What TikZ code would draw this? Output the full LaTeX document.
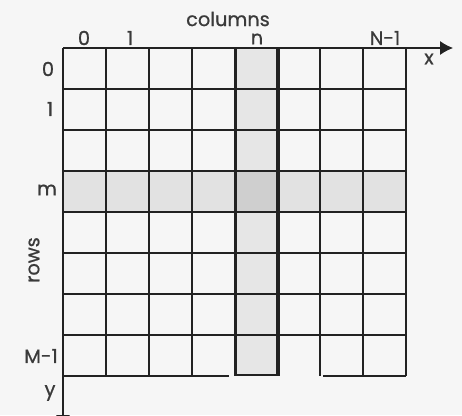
\documentclass[tikz,border=0pt]{standalone}
\usepackage{fontspec}
\setmainfont{Poppins}
\newfontfamily\lblfont{Poppins}[FakeBold=0.8]
\usepackage{xcolor}
\usepackage{tikz}
\usetikzlibrary{calc,arrows.meta,positioning}
\definecolor{inkc}{HTML}{222222}
\definecolor{txtc}{HTML}{3A3A3A}
\definecolor{bgc}{HTML}{F6F6F6}
\definecolor{rowc}{HTML}{E2E2E2}
\definecolor{colc}{HTML}{E6E6E6}
\definecolor{crossc}{HTML}{CFCFCF}
\tikzset{
  gl/.style={line width=1.1pt,inkc},
  ax/.style={line width=0.6pt,inkc,-{Latex[length=2.6mm,width=2.8mm]}},
  lbl/.style={font=\lblfont\fontsize{11}{12}\selectfont,txtc,inner sep=0pt}
}

\begin{document}
\begin{tikzpicture}[x=0.02cm,y=-0.02cm]
\useasboundingbox (0,0) rectangle (462,415);
\fill[bgc] (0,0) rectangle (462,415);
% highlighted row m and column n
\fill[rowc] (63,171) rectangle (406,212);
\fill[colc] (236,48) rectangle (278,375);
\fill[crossc] (236,171) rectangle (278,212);
% grid
\foreach \ia in {0,...,7}{
 \pgfmathsetmacro{\yy}{48+41*\ia}
 \draw[gl] (63,\yy) -- (406,\yy);}
\draw[gl] (63,376) -- (229,376);
\draw[gl] (323,376) -- (406,376);
\foreach \ib in {1,...,8}{
 \pgfmathsetmacro{\xx}{63+42.875*\ib}
 \draw[gl] (\xx,48) -- (\xx,376);}
\draw[line width=1.7pt,inkc] (236,48) rectangle (278,375);
% axes
\coordinate (o) at (63,48);
\coordinate (xend) at (453,48);
\coordinate (yend) at (63,428);
\draw[ax] (o) -- (xend);
\draw[ax] (o) -- (yend);
\draw[gl] (o) -- (406,48);
\draw[gl] (o) -- (63,376);
% labels
\node[lbl] (cols) at (228,19) {columns};
\node[lbl] (c0) at (84,38) {0};
\node[lbl] (c1) at (130,38) {1};
\node[lbl] (cn) at (257,39) {n};
\node[lbl] (cN) at (385,38) {N-1};
\node[lbl] (lx) at (429,59) {x};
\node[lbl] (r0) at (48,69) {0};
\node[lbl] (r1) at (50,109) {1};
\node[lbl] (rm) at (47,190) {m};
\node[lbl,rotate=90] (rws) at (34,260) {rows};
\node[lbl] (rM) at (41,356) {M-1};
\node[lbl] (ly) at (50,393) {y};
\end{tikzpicture}
\end{document}
